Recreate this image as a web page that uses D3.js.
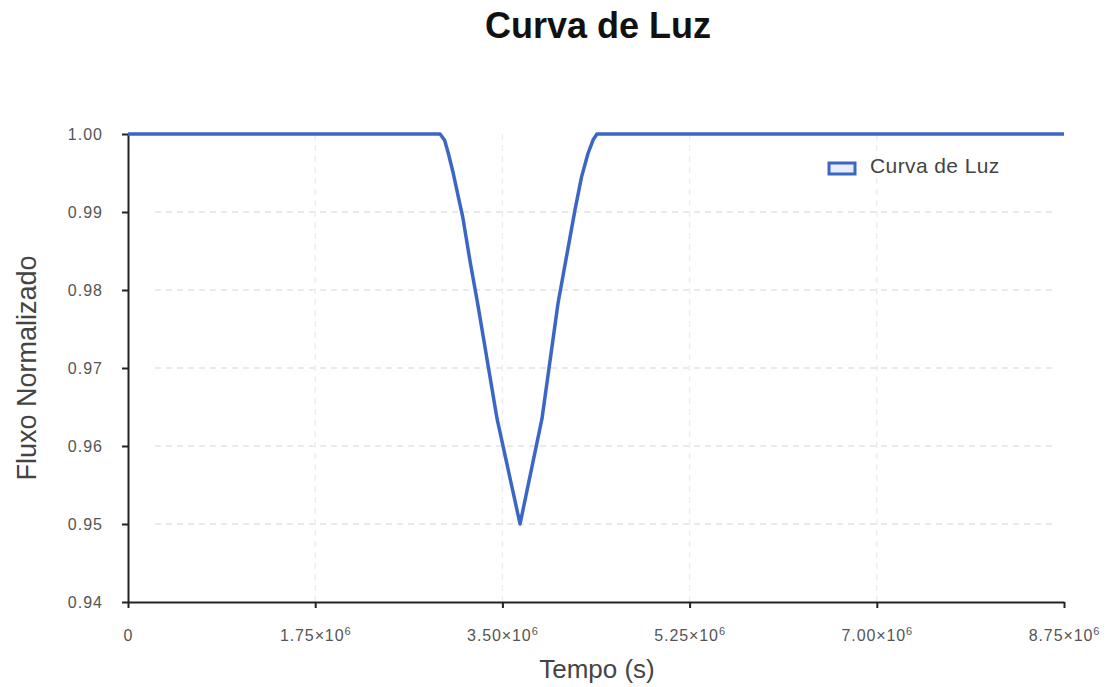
<!DOCTYPE html>
<html>
<head>
<meta charset="utf-8">
<script src="https://cdn.jsdelivr.net/npm/d3@7"></script>
<style>
  body { margin: 0; background: #fff; }
  text { font-family: "Liberation Sans", Arial, sans-serif; }
</style>
</head>
<body>
<div id="chart"></div>
<script>
// data: time (s) and normalised flux
var tempo = [0, 2.917e6, 2.960e6, 2.995e6, 3.040e6, 3.090e6, 3.130e6, 3.200e6, 3.272e6, 3.450e6, 3.665e6,
             3.870e6, 4.020e6, 4.179e6, 4.240e6, 4.300e6, 4.350e6, 4.384e6, 8.75e6];
var fluxo = [1.0, 1.0, 0.9992, 0.9975, 0.9950, 0.9918, 0.9893, 0.9835, 0.9780, 0.9635, 0.950,
             0.9635, 0.9783, 0.9903, 0.9945, 0.9975, 0.9993, 1.0, 1.0];
var xTicks = [0, 1.75e6, 3.5e6, 5.25e6, 7.0e6, 8.75e6];
var yTicks = [0.94, 0.95, 0.96, 0.97, 0.98, 0.99, 1.00];

var width = 1107, height = 687;
var margin = { left: 128, right: 43, top: 134, bottom: 85 };

var svg = d3.select("#chart").append("svg")
    .attr("width", width)
    .attr("height", height);

var x = d3.scaleLinear().domain([0, 8.75e6]).range([margin.left, width - margin.right]);
var y = d3.scaleLinear().domain([0.94, 1.0]).range([height - margin.bottom, margin.top]);

// grid
svg.append("g").selectAll("line.hg")
    .data(yTicks.filter(function (d) { return d > 0.945 && d < 0.995; }))
    .enter().append("line")
    .attr("x1", x(0) + 27).attr("x2", x(8.75e6) - 8)
    .attr("y1", function (d) { return y(d); }).attr("y2", function (d) { return y(d); })
    .attr("stroke", "#e4e4e4").attr("stroke-width", 1.5).attr("stroke-dasharray", "6,5");

svg.append("g").selectAll("line.vg")
    .data(xTicks.slice(1, 5))
    .enter().append("line")
    .attr("x1", function (d) { return x(d); }).attr("x2", function (d) { return x(d); })
    .attr("y1", y(1.0)).attr("y2", y(0.94))
    .attr("stroke", "#eeeeee").attr("stroke-width", 1.5).attr("stroke-dasharray", "6,5");

// axes
var fmtX = function (d) {
    if (d === 0) return "0";
    return (d / 1e6).toFixed(2) + "\u00d710";
};

var xAxis = svg.append("g")
    .attr("transform", "translate(0," + y(0.94) + ")")
    .call(d3.axisBottom(x).tickValues(xTicks).tickSize(6).tickSizeOuter(0).tickFormat(fmtX));
xAxis.select(".domain").attr("stroke", "#222").attr("stroke-width", 2);
xAxis.selectAll(".tick line").attr("stroke", "#222").attr("stroke-width", 2);
xAxis.selectAll(".tick text")
    .attr("y", 28)
    .attr("font-size", 16)
    .attr("letter-spacing", 0.9)
    .attr("fill", "#555")
    .each(function (d) {
        if (d !== 0) {
            d3.select(this).append("tspan").attr("dy", -6).attr("font-size", 11).text("6");
        }
    });

var yAxis = svg.append("g")
    .attr("transform", "translate(" + x(0) + ",0)")
    .call(d3.axisLeft(y).tickValues(yTicks).tickSize(6).tickSizeOuter(0).tickFormat(d3.format(".2f")));
yAxis.select(".domain").attr("stroke", "#222").attr("stroke-width", 2);
yAxis.selectAll(".tick line").attr("stroke", "#222").attr("stroke-width", 2);
yAxis.selectAll(".tick text")
    .attr("x", -25)
    .attr("font-size", 16)
    .attr("letter-spacing", 1)
    .attr("fill", "#555");

// light curve
var line = d3.line()
    .x(function (d, i) { return x(tempo[i]); })
    .y(function (d) { return y(d); });

svg.append("path")
    .datum(fluxo)
    .attr("fill", "none")
    .attr("stroke", "#3b66c6")
    .attr("stroke-width", 3.5)
    .attr("stroke-linejoin", "round")
    .attr("d", line);

// title and axis labels
svg.append("text")
    .attr("x", 598).attr("y", 38)
    .attr("text-anchor", "middle")
    .attr("font-size", 36).attr("font-weight", "bold")
    .attr("fill", "#111")
    .text("Curva de Luz");

svg.append("text")
    .attr("x", 597).attr("y", 678)
    .attr("text-anchor", "middle")
    .attr("font-size", 26)
    .attr("fill", "#444")
    .text("Tempo (s)");

svg.append("text")
    .attr("transform", "translate(36," + ((y(1.0) + y(0.94)) / 2) + ") rotate(-90)")
    .attr("text-anchor", "middle")
    .attr("font-size", 27)
    .attr("fill", "#444")
    .text("Fluxo Normalizado");

// legend
var legend = svg.append("g").attr("transform", "translate(829,163)");
legend.append("rect")
    .attr("width", 26).attr("height", 11)
    .attr("fill", "#e8edf8")
    .attr("stroke", "#3b66c6").attr("stroke-width", 3);
legend.append("text")
    .attr("x", 41).attr("y", 10)
    .attr("font-size", 21)
    .attr("letter-spacing", 0.4)
    .attr("fill", "#444")
    .text("Curva de Luz");
</script>
</body>
</html>
